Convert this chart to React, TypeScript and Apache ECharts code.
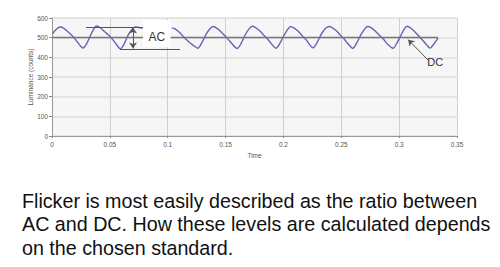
import React, { useEffect, useRef } from "react";
import * as echarts from "echarts";

// ---- data ----
const timeS: number[] = [
  0.0005, 0.0035, 0.0069, 0.01, 0.0135, 0.017, 0.0205, 0.024, 0.0268, 0.03, 0.0335, 0.037, 0.0385,
  0.042, 0.0455, 0.049, 0.0525, 0.056, 0.059, 0.0625, 0.066, 0.07, 0.072, 0.075, 0.078,
  0.09,
  0.1035, 0.106, 0.1095, 0.113, 0.1165, 0.12, 0.1235, 0.126, 0.1295, 0.133, 0.1365, 0.139,
  0.142, 0.1455, 0.149, 0.1525, 0.156, 0.16, 0.1635, 0.167, 0.1705, 0.173,
  0.176, 0.1795, 0.183, 0.1865, 0.19, 0.1936, 0.197, 0.2005, 0.204, 0.2062,
  0.209, 0.2125, 0.216, 0.2195, 0.223, 0.2255, 0.229, 0.2325, 0.236, 0.2394,
  0.242, 0.2455, 0.249, 0.2525, 0.256, 0.26, 0.2635, 0.267, 0.2705, 0.273,
  0.276, 0.2795, 0.283, 0.2865, 0.29, 0.2947, 0.298, 0.3015, 0.3045, 0.3068,
  0.31, 0.3135, 0.317, 0.3205, 0.324, 0.3267, 0.33, 0.3336,
];
const luminance: (number | null)[] = [
  520, 541, 554, 548, 531, 512, 489, 462, 447, 470, 515, 552, 559,
  549, 530, 513, 490, 463, 443, 470, 515, 548, 555, 552, 548,
  null,
  550, 546, 530, 509, 488, 470, 455, 446, 475, 515, 545, 557,
  550, 533, 512, 490, 466, 445, 472, 515, 546, 558,
  551, 535, 513, 492, 466, 446, 472, 512, 545, 556,
  550, 534, 511, 490, 462, 448, 475, 515, 545, 557,
  551, 536, 514, 493, 468, 446, 475, 515, 546, 557,
  550, 533, 512, 492, 467, 446, 472, 512, 545, 558,
  549, 530, 508, 486, 462, 447, 468, 498,
];
const xTicks: number[] = [0, 0.05, 0.1, 0.15, 0.2, 0.25, 0.3, 0.35];
const yTicks: number[] = [0, 100, 200, 300, 400, 500, 600];

// annotation levels (data units)
const dcLevel = 500;
const acTop = 555;
const acBottom = 443;
const captionLines: string[] = [
  "Flicker is most easily described as the ratio between",
  "AC and DC. How these levels are calculated depends",
  "on the chosen standard.",
];

export default function App() {
  const ref = useRef<HTMLDivElement>(null);
  useEffect(() => {
    if (!ref.current) return;
    const chart = echarts.init(ref.current, null, { renderer: "svg" });
    const data = timeS.map((t, i) => [t, luminance[i] === null ? "-" : luminance[i]]);
    const axisFont = { fontFamily: "Liberation Sans", fontSize: 6.5, color: "#555" };
    const annoLine = { color: "#555", width: 1, type: "solid" as const };
    const ln = (a: number[], b: number[], s0 = "none", s1 = "none", style: any = annoLine) => [
      { coord: a, symbol: s0, lineStyle: style },
      { coord: b, symbol: s1 },
    ];
    chart.setOption({
      animation: false,
      backgroundColor: "#ffffff",
      grid: {
        left: 52,
        right: 43,
        top: 18,
        bottom: 131,
        show: true,
        backgroundColor: "#f6f6f6",
        borderWidth: 0,
      },
      xAxis: {
        type: "value",
        min: xTicks[0],
        max: xTicks[xTicks.length - 1],
        interval: 0.05,
        name: "Time",
        nameLocation: "middle",
        nameGap: 16,
        nameMoveOverlap: false,
        nameTextStyle: axisFont,
        axisLine: { show: true, lineStyle: { color: "#999" } },
        axisTick: { show: true, length: 2, lineStyle: { color: "#888" } },
        axisLabel: { ...axisFont, margin: 5, formatter: (v: number) => String(+v.toFixed(2)) },
        splitLine: { show: true, lineStyle: { color: "#d0d0d0", width: 1 } },
      },
      yAxis: {
        type: "value",
        min: yTicks[0],
        max: yTicks[yTicks.length - 1],
        interval: 100,
        name: "Luminance (counts)",
        nameLocation: "middle",
        nameGap: 18,
        nameMoveOverlap: false,
        nameTextStyle: axisFont,
        axisLine: { show: true, lineStyle: { color: "#999" } },
        axisTick: { show: true, length: 3, lineStyle: { color: "#888" } },
        axisLabel: { ...axisFont, margin: 4 },
        splitLine: { show: true, lineStyle: { color: "#dedede", width: 1.5 } },
      },
      series: [
        {
          type: "line",
          data,
          showSymbol: false,
          smooth: 0.3,
          connectNulls: false,
          lineStyle: { color: "#6464b6", width: 1.4 },
          z: 3,
          markArea: {
            silent: true,
            itemStyle: { color: "#ffffff" },
            data: [[{ coord: [0.0786, 590] }, { coord: [0.1025, 452] }]],
          },
          markLine: {
            silent: true,
            symbolSize: 6,
            label: { show: false },
            data: [
              ln([0, dcLevel], [0.0786, dcLevel], "none", "none", { color: "#777", width: 1.3, type: "solid" }),
              ln([0.1025, dcLevel], [0.3336, dcLevel], "none", "none", { color: "#777", width: 1.3, type: "solid" }),
              ln([0.0294, acTop], [0.0786, acTop]),
              ln([0.0588, acBottom], [0.1106, acBottom]),
              ln([0.07, acTop - 3], [0.07, acBottom + 2], "arrow", "arrow"),
              ln([0.3255, 383], [0.3078, 490], "none", "arrow"),
            ],
          },
          markPoint: {
            silent: true,
            symbol: "circle",
            symbolSize: 1,
            itemStyle: { color: "rgba(0,0,0,0)" },
            data: [
              {
                coord: [0.0905, 502],
                value: "AC",
                label: { show: true, formatter: "AC", fontFamily: "Liberation Sans", fontSize: 12, color: "#333" },
              },
              {
                coord: [0.3312, 375],
                value: "DC",
                label: { show: true, formatter: "DC", fontFamily: "Liberation Sans", fontSize: 11, color: "#333" },
              },
            ],
          },
        },
      ],
      graphic: captionLines.map((line, i) => ({
        type: "text",
        x: 22,
        y: 200.7 + i * 23.4,
        style: {
          text: line,
          fontFamily: "Liberation Sans",
          fontSize: 19.7,
          fill: "#111",
          verticalAlign: "middle",
          align: "left",
        },
      })),
    });
    return () => chart.dispose();
  }, []);
  return <div ref={ref} style={{ position: "fixed", left: 0, top: 0, width: 500, height: 267 }} />;
}
